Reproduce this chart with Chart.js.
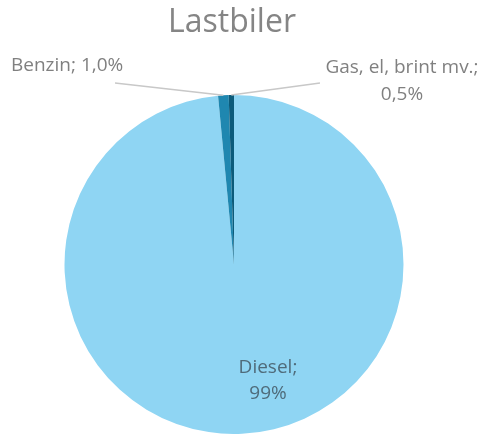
<!DOCTYPE html>
<html lang="da">
<head>
<meta charset="UTF-8">
<title>Lastbiler</title>
<script src="https://cdn.jsdelivr.net/npm/chart.js"></script>
<style>
  html, body { margin: 0; padding: 0; background: #fff; }
  #wrap { width: 486px; height: 434px; }
</style>
</head>
<body>
<div id="wrap"><canvas id="pie" width="486" height="434"></canvas></div>
<script>
// data
const fuelTypes = ['Diesel', 'Benzin', 'Gas, el, brint mv.'];
const shares = [98.5, 1.0, 0.5];
const shareLabels = ['99%', '1,0%', '0,5%'];
const sliceColors = ['#8fd5f3', '#1f87b0', '#0c5b7a'];

// labels + leader lines drawn next to the slices
const labelPlugin = {
  id: 'pieLabels',
  afterDatasetsDraw(chart) {
    const ctx = chart.ctx;
    const arcs = chart.getDatasetMeta(0).data;
    ctx.save();
    ctx.font = '32px "Open Sans", sans-serif';
    ctx.fillStyle = '#858585';
    ctx.textAlign = 'center';
    ctx.textBaseline = 'middle';
    ctx.fillText('Lastbiler', 232, 23);

    ctx.font = '19px "Open Sans", sans-serif';
    ctx.strokeStyle = '#c8c8c8';
    ctx.lineWidth = 1.5;

    // Benzin
    const b = arcs[1].getProps(['x', 'y', 'startAngle', 'endAngle', 'outerRadius'], true);
    const bMid = (b.startAngle + b.endAngle) / 2;
    ctx.beginPath();
    ctx.moveTo(115, 83);
    ctx.lineTo(b.x + Math.cos(bMid) * b.outerRadius, b.y + Math.sin(bMid) * b.outerRadius);
    ctx.stroke();
    ctx.fillStyle = '#808080';
    ctx.textAlign = 'left';
    ctx.fillText(fuelTypes[1] + '; ' + shareLabels[1], 11, 66);

    // Gas
    const g = arcs[2].getProps(['x', 'y', 'startAngle', 'endAngle', 'outerRadius'], true);
    const gMid = (g.startAngle + g.endAngle) / 2;
    ctx.beginPath();
    ctx.moveTo(g.x + Math.cos(gMid) * g.outerRadius, g.y + Math.sin(gMid) * g.outerRadius);
    ctx.lineTo(320, 83);
    ctx.stroke();
    ctx.textAlign = 'center';
    ctx.fillText(fuelTypes[2] + ';', 402, 68);
    ctx.fillText(shareLabels[2], 402, 95);

    // Diesel, inside the slice
    ctx.fillStyle = '#4f6b7a';
    ctx.fillText(fuelTypes[0] + ';', 268, 368);
    ctx.fillText(shareLabels[0], 268, 394);
    ctx.restore();
  }
};

new Chart(document.getElementById('pie'), {
  type: 'pie',
  data: {
    labels: fuelTypes,
    datasets: [{
      data: shares,
      backgroundColor: sliceColors,
      borderWidth: 0
    }]
  },
  options: {
    responsive: false,
    animation: false,
    layout: { padding: { left: 64, right: 82, top: 95, bottom: 0 } },
    plugins: {
      legend: { display: false },
      tooltip: { enabled: false },
      title: { display: false }
    }
  },
  plugins: [labelPlugin]
});
</script>
</body>
</html>
